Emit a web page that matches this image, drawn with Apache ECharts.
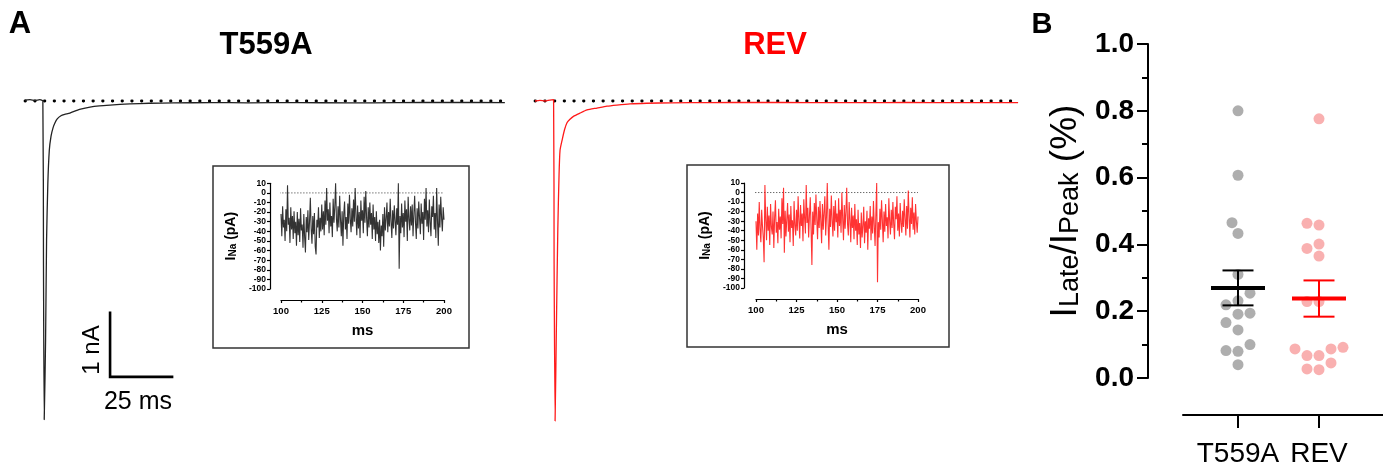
<!DOCTYPE html>
<html>
<head>
<meta charset="utf-8">
<script src="https://cdn.jsdelivr.net/npm/echarts@6.0.0/dist/echarts.min.js"></script>
<style>
  html, body { margin: 0; padding: 0; background: #fff; }
  #main { width: 1383px; height: 463px; }
</style>
</head>
<body>
<div id="main"></div>
<script>
// whole-cell Na current traces, time (ms) and current (nA)
const t559aTime = [0, 2, 4, 6, 7.2, 7.45, 7.75, 8.3, 8.7, 9.2, 9.8, 10.5, 11.3, 12.1, 13, 14.5, 16, 18.1, 22, 26.2, 30, 34.3, 42.3, 50, 60, 75, 90, 110, 130, 150, 170, 193.5];
const t559aCurr = [0.015, 0.02, 0.01, 0.02, 0.0, -2.5, -4.98, -3.73, -2.17, -1.3, -0.77, -0.55, -0.42, -0.34, -0.28, -0.23, -0.21, -0.19, -0.13, -0.094, -0.075, -0.063, -0.045, -0.035, -0.03, -0.025, -0.028, -0.025, -0.03, -0.025, -0.022, -0.025];
const revTime = [0, 2, 4, 6, 7.5, 7.7, 8.1, 8.6, 9.2, 9.7, 10.1, 11, 11.9, 12.9, 14, 15.5, 18.1, 21, 25, 29, 33, 38.3, 45, 55, 70, 90, 110, 130, 150, 170, 194.8];
const revCurr = [0.0, 0.01, 0.0, 0.015, 0.02, -2.5, -5.0, -3.6, -2.0, -1.15, -0.77, -0.6, -0.45, -0.34, -0.29, -0.24, -0.19, -0.14, -0.11, -0.08, -0.063, -0.045, -0.035, -0.028, -0.025, -0.022, -0.025, -0.025, -0.023, -0.025, -0.025];

// late current insets (pA), one sample every 0.5 ms from 100 to 200 ms
const insetStart = 100;
const insetStep = 0.5;
const lateT559A = [
  -22, -45, -14, -36, -28, -50, -17, -40, 8, -33,
  -26, -52, -15, -38, -24, -48, -19, -42, -30, -55,
  -20, -44, -27, -51, -16, -39, -33, -57, -22, -46,
  -62, -25, -41, -18, -49, -30, -5, -37, -53, -24,
  -43, -21, -56, -64, -28, -36, -15, -47, -26, -40,
  -12, -38, -19, -44, -8, -33, 5, -29, -17, -42,
  -10, -35, -24, -46, -6, -31, -15, 10, -27, -40,
  -14, -36, -3, -28, -45, -19, -55, -22, -9, -38,
  -25, -48, -11, -32, -2, -27, -41, -16, -35, -7,
  -30, 5, -24, -44, -13, -37, -20, -47, -8, -29,
  -18, -42, -4, -31, 2, -26, -45, -15, -36, -10,
  -33, -21, -48, -12, -38, -25, -50, -19, -43, -30,
  -52, -28, -60, -34, -45, -22, -56, -15, -39, -27,
  -10, -41, -20, -35, -6, -30, -47, -18, -37, -13,
  -29, -44, -16, -33, 10, -79, -24, -42, -11, -36,
  -21, -46, -8, -30, -17, -50, -4, -27, -39, -14,
  -34, -12, -45, -22, -3, -31, -48, -16, -37, -9,
  -26, -43, -11, -32, -20, -49, -6, -28, 5, -35,
  -18, -41, -7, -30, -45, -14, -25, -3, -38, -21,
  -47, 5, -29, -55, -12, -36, -4, -26, -40, -15,
  -28
];
const lateREV = [
  -30, -60, -22, -45, -10, -38, -52, -18, -35, -47,
  -73, 8, -28, -50, -15, -40, -24, -55, -12, -36,
  -44, -20, -58, -26, -8, -42, -31, -53, -17, -39,
  -25, -48, -6, -33, 5, -63, -19, -46, -28, -11,
  -41, -23, -52, -14, -37, -29, -56, -9, -34, -45,
  -18, -40, -4, -30, -48, -13, -35, -22, -51, -7,
  -27, -43, 8, -32, -16, -47, -24, -5, -38, -76,
  -20, -44, -11, -34, -2, -28, -49, -15, -37, -9,
  -30, -53, -12, -39, -21, -4, -45, -25, 10, -33,
  -60, -17, -36, -3, -29, -46, -14, -40, -8, -31,
  -22, -47, -6, -35, -18, -42, 0, -27, -50, -13,
  -38, -20, 5, -33, -45, -10, -29, -52, -16, -37,
  -24, -49, -12, -40, -28, -55, -18, -44, -32, -58,
  -21, -47, -35, -15, -53, -30, -42, -19, -60, -27,
  -38, -14, -50, -25, -43, -9, -34, -56, -22, 10,
  -94, -31, -47, -17, -39, -8, -29, -52, -20, -41,
  -12, -35, -26, -48, -6, -30, -44, -18, -37, -10,
  -33, -49, -15, -28, -4, -40, -22, -46, -11, -31,
  -42, -19, -36, -7, -27, -45, -14, -38, 2, -24,
  -47, -16, -33, -5, -39, -21, -44, -12, -30, -42,
  -25
];

// panel B: I_Late / I_Peak (%)
const groups = ['T559A', 'REV'];
const ratioT559A = [0.80, 0.607, 0.465, 0.433, 0.31, 0.254, 0.231, 0.219, 0.194, 0.191, 0.166, 0.144, 0.10, 0.08, 0.082, 0.04];
const ratioREV = [0.776, 0.458, 0.463, 0.401, 0.388, 0.365, 0.229, 0.229, 0.092, 0.087, 0.087, 0.067, 0.067, 0.045, 0.025, 0.027];

const FONT = '"Liberation Sans", Arial, Helvetica, sans-serif';

function pairs(xs, ys) { return xs.map((x, i) => [x, ys[i]]); }
function insetPairs(ys) { return ys.map((y, i) => [insetStart + i * insetStep, y]); }
function mean(a) { return a.reduce((s, v) => s + v, 0) / a.length; }
function sem(a) {
  const m = mean(a);
  const v = a.reduce((s, x) => s + (x - m) * (x - m), 0) / (a.length - 1);
  return Math.sqrt(v / a.length);
}

// panel B geometry
const bGrid = { left: 1183, top: 44, width: 200, height: 334, outerBoundsMode: 'none' };
const bPxPerGroup = 81;
const bXMin = 1 - 55 / bPxPerGroup;
const bXMax = bXMin + bGrid.width / bPxPerGroup;
const dotSize = 11;

// simple beeswarm: sort by value, push each dot sideways until it no longer overlaps
function swarm(values, pxPerUnit, minDist, step) {
  const order = values.map((v, i) => i).sort((a, b) => values[a] - values[b]);
  const placed = [];
  const off = new Array(values.length).fill(0);
  order.forEach(i => {
    const y = values[i] * pxPerUnit;
    for (let k = 0; k < 40; k++) {
      const cand = k === 0 ? 0 : (k % 2 ? -1 : 1) * Math.ceil(k / 2) * step;
      if (placed.every(p => Math.hypot(p.x - cand, p.y - y) >= minDist)) {
        off[i] = cand;
        placed.push({ x: cand, y: y });
        break;
      }
    }
  });
  return off;
}
function swarmData(values, groupPos) {
  const off = swarm(values, bGrid.height, 12, 6);
  return values.map((v, i) => [groupPos + off[i] / bPxPerGroup, v]);
}

// scale bar (drawn in the T559A trace coordinates)
const scaleMs = 25, scaleNA = 1;
const scaleX0 = 34.3, scaleY0 = -4.31;

const traceGrid = (left) => ({ left: left, top: 88.2, width: 483.6, height: 345.6, outerBoundsMode: 'none' });

const chart = echarts.init(document.getElementById('main'));

const insetXAxis = (gi) => ({
  gridIndex: gi, type: 'value', min: 100, max: 200, interval: 25, offset: 11,
  axisLine: { show: true, onZero: false, lineStyle: { color: '#000', width: 1.2 } },
  axisTick: { show: true, length: 3, lineStyle: { color: '#000', width: 1.2 } },
  minorTick: { show: true, splitNumber: 2, length: 2.5, lineStyle: { color: '#000', width: 1.2 } },
  splitLine: { show: false },
  axisLabel: { fontSize: 9.5, fontWeight: 'bold', color: '#000', fontFamily: FONT, margin: 6 },
  name: 'ms', nameLocation: 'middle', nameGap: 23,
  nameTextStyle: { fontSize: 15, fontWeight: 'bold', color: '#000', fontFamily: FONT }
});
const insetYAxis = (gi, off) => ({
  gridIndex: gi, type: 'value', min: -100, max: 10, interval: 10, offset: off,
  axisLine: { show: true, onZero: false, lineStyle: { color: '#000', width: 1.2 } },
  axisTick: { show: true, length: 3, lineStyle: { color: '#000', width: 1.2 } },
  splitLine: { show: false },
  axisLabel: { fontSize: 8.5, fontWeight: 'bold', color: '#000', fontFamily: FONT, margin: 4 },
  name: '{b|I}{s|Na}{b| (pA)}', nameLocation: 'middle', nameGap: 32, nameRotate: 90,
  nameTextStyle: {
    rich: {
      b: { fontSize: 14, lineHeight: 14, fontWeight: 'bold', color: '#000', fontFamily: FONT, verticalAlign: 'top' },
      s: { fontSize: 10, lineHeight: 10, fontWeight: 'bold', color: '#000', fontFamily: FONT, verticalAlign: 'bottom', padding: [7, 0, 0, 0] }
    }
  }
});
const hidden = (gi, min, max) => ({ gridIndex: gi, type: 'value', min: min, max: max, show: false });

const option = {
  animation: false,
  backgroundColor: '#fff',
  grid: [
    traceGrid(25),
    traceGrid(535),
    { left: 281, top: 183.3, width: 163, height: 105.7, outerBoundsMode: 'none' },
    { left: 756, top: 183, width: 162, height: 105, outerBoundsMode: 'none' },
    bGrid
  ],
  xAxis: [
    hidden(0, 0, 195),
    hidden(1, 0, 195),
    insetXAxis(2),
    insetXAxis(3),
    {
      gridIndex: 4, type: 'value', min: bXMin, max: bXMax, offset: 37,
      axisLine: { show: true, onZero: false, lineStyle: { color: '#000', width: 2 } },
      axisTick: { show: true, length: 13, customValues: [1, 2], lineStyle: { color: '#000', width: 2 } },
      splitLine: { show: false },
      axisLabel: {
        customValues: [1, 2], formatter: v => groups[Math.round(v) - 1],
        fontSize: 28, color: '#000', fontFamily: FONT, margin: 25
      }
    }
  ],
  yAxis: [
    hidden(0, -5.2, 0.2),
    hidden(1, -5.2, 0.2),
    insetYAxis(2, 11),
    insetYAxis(3, 12),
    {
      gridIndex: 4, type: 'value', min: 0, max: 1, interval: 0.2, offset: 35,
      axisLine: { show: true, onZero: false, lineStyle: { color: '#000', width: 2 } },
      axisTick: { show: true, length: 11, lineStyle: { color: '#000', width: 2 } },
      minorTick: { show: true, splitNumber: 2, length: 6, lineStyle: { color: '#000', width: 2 } },
      splitLine: { show: false },
      axisLabel: { formatter: v => v.toFixed(1), fontSize: 28, fontWeight: 'bold', color: '#000', fontFamily: FONT, margin: 14 },
      name: '{m|I}{s|Late}{m|/I}{s|Peak}{m| (%)}', nameLocation: 'middle', nameGap: 64, nameRotate: 90,
      nameTextStyle: {
        rich: {
          m: { fontSize: 37, lineHeight: 37, color: '#000', fontFamily: FONT, verticalAlign: 'top' },
          s: { fontSize: 27, lineHeight: 27, color: '#000', fontFamily: FONT, verticalAlign: 'bottom', padding: [18, 0, 0, 0] }
        }
      }
    }
  ],
  series: [
    // zero lines
    { type: 'line', xAxisIndex: 0, yAxisIndex: 0, data: [[0, 0], [193.5, 0]], showSymbol: false, silent: true,
      lineStyle: { color: '#000', width: 2.8, type: [0.5, 9.2], cap: 'round' }, z: 1 },
    { type: 'line', xAxisIndex: 1, yAxisIndex: 1, data: [[0, 0], [194.8, 0]], showSymbol: false, silent: true,
      lineStyle: { color: '#000', width: 2.8, type: [0.5, 9.2], cap: 'round' }, z: 1 },
    // traces
    { name: 'T559A', type: 'line', xAxisIndex: 0, yAxisIndex: 0, data: pairs(t559aTime, t559aCurr), showSymbol: false,
      smooth: 0.2, lineStyle: { color: '#222', width: 1.3 }, z: 2 },
    { name: 'REV', type: 'line', xAxisIndex: 1, yAxisIndex: 1, data: pairs(revTime, revCurr), showSymbol: false,
      smooth: 0.2, lineStyle: { color: '#ff1a1a', width: 1.3 }, z: 2 },
    // scale bar
    { type: 'line', xAxisIndex: 0, yAxisIndex: 0, showSymbol: false, silent: true,
      data: [[scaleX0, scaleY0 + scaleNA], [scaleX0, scaleY0], [scaleX0 + scaleMs, scaleY0]],
      lineStyle: { color: '#000', width: 2.6, cap: 'square', join: 'miter' } },
    // inset zero lines
    { type: 'line', xAxisIndex: 2, yAxisIndex: 2, data: [[93.5, 0], [200, 0]], showSymbol: false, silent: true,
      lineStyle: { color: '#333', width: 1, type: [1, 2] } },
    { type: 'line', xAxisIndex: 3, yAxisIndex: 3, data: [[94, 0], [200, 0]], showSymbol: false, silent: true,
      lineStyle: { color: '#333', width: 1, type: [1, 2] } },
    // inset late currents
    { type: 'line', xAxisIndex: 2, yAxisIndex: 2, data: insetPairs(lateT559A), showSymbol: false, sampling: null,
      lineStyle: { color: '#000', width: 1.1, opacity: 0.8 } },
    { type: 'line', xAxisIndex: 3, yAxisIndex: 3, data: insetPairs(lateREV), showSymbol: false, sampling: null,
      lineStyle: { color: '#ff0000', width: 1.1, opacity: 0.8 } },
    // panel B
    { type: 'scatter', xAxisIndex: 4, yAxisIndex: 4, data: swarmData(ratioT559A, 1), symbolSize: dotSize,
      itemStyle: { color: '#9a9a9a' }, z: 3 },
    { type: 'scatter', xAxisIndex: 4, yAxisIndex: 4, data: swarmData(ratioREV, 2), symbolSize: dotSize,
      itemStyle: { color: '#f79c9c' }, z: 3 },
    {
      type: 'custom', xAxisIndex: 4, yAxisIndex: 4, z: 5,
      data: [[1, mean(ratioT559A), sem(ratioT559A)], [2, mean(ratioREV), sem(ratioREV)]],
      encode: { x: 0, y: 1 },
      renderItem: function (params, api) {
        const g = api.value(0), m = api.value(1), s = api.value(2);
        const c = api.coord([g, m]);
        const hi = api.coord([g, m + s]);
        const lo = api.coord([g, m - s]);
        const col = params.dataIndex === 0 ? '#000' : '#ff0000';
        const ln = (x1, y1, x2, y2, w) => ({ type: 'line', shape: { x1, y1, x2, y2 }, style: { stroke: col, lineWidth: w } });
        return {
          type: 'group',
          children: [
            ln(c[0] - 27, c[1], c[0] + 27, c[1], 4),
            ln(hi[0], hi[1], lo[0], lo[1], 2),
            ln(hi[0] - 15.5, hi[1], hi[0] + 15.5, hi[1], 2),
            ln(lo[0] - 15.5, lo[1], lo[0] + 15.5, lo[1], 2)
          ]
        };
      }
    }
  ],
  graphic: [
    { type: 'rect', shape: { x: 213, y: 166, width: 256, height: 182 }, style: { fill: 'none', stroke: '#333', lineWidth: 1.5 } },
    { type: 'rect', shape: { x: 687, y: 165, width: 262, height: 182 }, style: { fill: 'none', stroke: '#333', lineWidth: 1.5 } },
    { type: 'text', x: 20, y: 24, style: { text: 'A', font: 'bold 31px ' + FONT, fill: '#000', textAlign: 'center', textVerticalAlign: 'middle' } },
    { type: 'text', x: 1042, y: 25, style: { text: 'B', font: 'bold 29px ' + FONT, fill: '#000', textAlign: 'center', textVerticalAlign: 'middle' } },
    { type: 'text', x: 266, y: 45, style: { text: 'T559A', font: 'bold 31px ' + FONT, fill: '#000', textAlign: 'center', textVerticalAlign: 'middle' } },
    { type: 'text', x: 775, y: 45, style: { text: 'REV', font: 'bold 31px ' + FONT, fill: '#ff0000', textAlign: 'center', textVerticalAlign: 'middle' } },
    { type: 'text', x: 92, y: 350, rotation: Math.PI / 2, style: { text: '1 nA', font: '24px ' + FONT, fill: '#000', textAlign: 'center', textVerticalAlign: 'middle' } },
    { type: 'text', x: 138, y: 402, style: { text: '25 ms', font: '25px ' + FONT, fill: '#000', textAlign: 'center', textVerticalAlign: 'middle' } }
  ]
};
chart.setOption(option);
</script>
</body>
</html>
